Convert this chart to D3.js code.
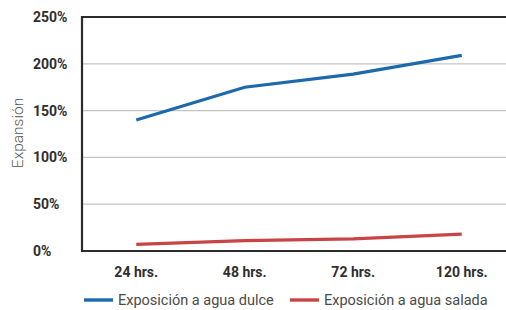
<!DOCTYPE html>
<html>
<head>
<meta charset="utf-8">
<script src="https://cdn.jsdelivr.net/npm/d3@7"></script>
<style>
body { margin: 0; background: #fff; }
svg text { font-family: Roboto, "Noto Sans", sans-serif; }
</style>
</head>
<body>
<div id="chart"></div>
<script>
// datos
const categorias = ['24 hrs.', '48 hrs.', '72 hrs.', '120 hrs.'];
const aguaDulce = [140, 175, 189, 209];
const aguaSalada = [7, 11, 13, 18];
const yTicks = [0, 50, 100, 150, 200, 250];
const series = [
    {nombre: 'Exposición a agua dulce', valores: aguaDulce, color: '#1c69ab'},
    {nombre: 'Exposición a agua salada', valores: aguaSalada, color: '#c94545'}
];

const W = 506, H = 310;
const svg = d3.select('#chart').append('svg').attr('width', W).attr('height', H);

const mLeft = 82, mTop = 17, mBottom = 251, mRight = 516;

const x = d3.scaleBand().domain(categorias).range([mLeft, mRight]);
const y = d3.scaleLinear().domain([0, 250]).range([mBottom, mTop]);

// líneas de cuadrícula
svg.append('g')
    .selectAll('line')
    .data(yTicks.slice(1, -1))
    .join('line')
    .attr('x1', mLeft).attr('x2', W)
    .attr('y1', d => y(d)).attr('y2', d => y(d))
    .attr('stroke', '#c4c4c4').attr('stroke-width', 1.2);

// borde superior
svg.append('line')
    .attr('x1', mLeft).attr('x2', W)
    .attr('y1', y(250)).attr('y2', y(250))
    .attr('stroke', '#2b2b2b').attr('stroke-width', 2);

// eje Y
svg.append('line')
    .attr('x1', mLeft).attr('x2', mLeft)
    .attr('y1', mTop - 1).attr('y2', mBottom + 1)
    .attr('stroke', '#2b2b2b').attr('stroke-width', 2.2);

// eje X
svg.append('line')
    .attr('x1', mLeft - 1).attr('x2', W)
    .attr('y1', mBottom).attr('y2', mBottom)
    .attr('stroke', '#2b2b2b').attr('stroke-width', 2.2);

svg.append('g')
    .selectAll('text')
    .data(yTicks)
    .join('text')
    .attr('x', 33)
    .attr('y', d => y(d) + 5)
    .text(d => d + '%')
    .style('font-size', '14px')
    .style('font-weight', 'bold')
    .style('fill', '#2e2e2e');

svg.append('g')
    .selectAll('text')
    .data(categorias)
    .join('text')
    .attr('x', d => x(d) + x.bandwidth() / 2)
    .attr('y', 277)
    .attr('text-anchor', 'middle')
    .text(d => d)
    .style('font-size', '14px')
    .style('font-weight', 'bold')
    .style('fill', '#2e2e2e');

svg.append('text')
    .attr('transform', 'translate(23,133) rotate(-90)')
    .attr('text-anchor', 'middle')
    .text('Expansión')
    .style('font-size', '15.5px')
    .style('font-weight', 300)
    .style('fill', '#555');

const linea = d3.line()
    .x((d, i) => x(categorias[i]) + x.bandwidth() / 2)
    .y(d => y(d));

svg.append('g')
    .selectAll('path')
    .data(series)
    .join('path')
    .attr('d', d => linea(d.valores))
    .attr('fill', 'none')
    .attr('stroke', d => d.color)
    .attr('stroke-width', 3.2);

// leyenda
const leyX = [84, 290];
const ley = svg.append('g')
    .selectAll('g')
    .data(series)
    .join('g')
    .attr('transform', (d, i) => 'translate(' + leyX[i] + ',300)');
ley.append('line')
    .attr('x1', 0).attr('x2', 29)
    .attr('y1', 0).attr('y2', 0)
    .attr('stroke', d => d.color)
    .attr('stroke-width', 3.4);
ley.append('text')
    .attr('x', 34)
    .attr('y', 5)
    .text(d => d.nombre)
    .style('font-size', '14.5px')
    .style('fill', '#4a4a4a');
</script>
</body>
</html>
